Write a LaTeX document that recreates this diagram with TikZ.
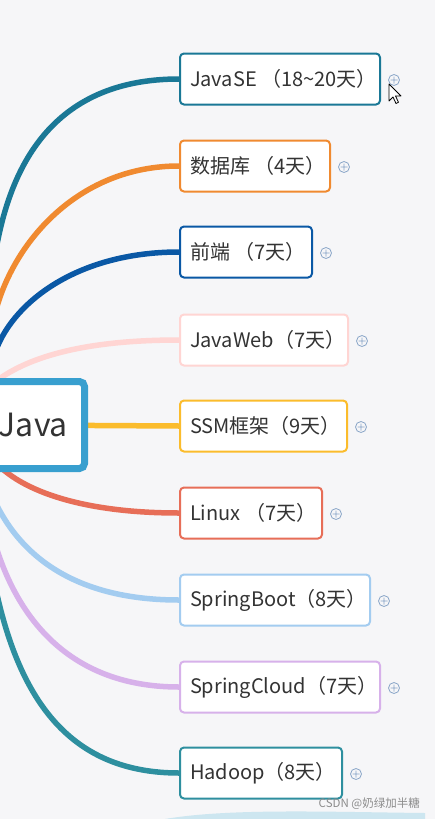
\documentclass[tikz,border=0pt]{standalone}
\usepackage{fontspec}
\setmainfont{Noto Sans CJK SC}
\pgfdeclarelayer{bgfill}
\pgfdeclarelayer{edges}
\pgfsetlayers{bgfill,edges,main}
\definecolor{bgc}{HTML}{F6F6F8}
\definecolor{txt}{HTML}{333333}
\definecolor{cse}{HTML}{1A7896}
\definecolor{cdb}{HTML}{F08A30}
\definecolor{cfe}{HTML}{0A58A5}
\definecolor{cweb}{HTML}{FFD5D3}
\definecolor{cssm}{HTML}{FBBC2C}
\definecolor{clx}{HTML}{E76E58}
\definecolor{cboot}{HTML}{A3CCF0}
\definecolor{ccloud}{HTML}{D7B1EA}
\definecolor{chd}{HTML}{2E8F9F}
\definecolor{croot}{HTML}{389FCF}
\definecolor{cplus}{HTML}{8AA6C8}
\definecolor{cwave}{HTML}{CDE6F0}
\newcommand{\tbox}[2]{\makebox[#1pt][l]{#2}}
\tikzset{
  topic/.style={draw=#1, line width=2pt, rounded corners=4pt, fill=white, anchor=west,
    minimum height=51pt, inner xsep=10pt, inner ysep=0pt, text=txt,
    font=\fontsize{20}{22}\selectfont},
  edge/.style={line width=5.5pt, draw=#1},
  plusic/.pic={\draw[cplus, line width=0.8pt] (0,0) circle (5.5) (-3.5,0) -- (3.5,0) (0,-3.5) -- (0,3.5);}
}
\begin{document}
\begin{tikzpicture}[x=1pt,y=-1pt]
\useasboundingbox (0,0) rectangle (435,819);
\begin{pgfonlayer}{bgfill}
\fill[bgc] (0,0) rectangle (435,819);
\end{pgfonlayer}
% root
\node[draw=croot, line width=7pt, rounded corners=5pt, fill=white, minimum width=144.5pt,
  minimum height=87pt, inner xsep=16.5pt, text width=111.5pt, align=right, text=txt,
  font=\fontsize{32}{34}\selectfont] (root) at (12.25,425) {Java};
% topics
\node[topic=cse] (javase) at (179,79) {\tbox{180}{JavaSE （18\char`~20天）}};
\node[topic=cdb] (db) at (179,166) {\tbox{130}{数据库 （4天）}};
\node[topic=cfe] (fe) at (179,252) {\tbox{112}{前端 （7天）}};
\node[topic=cweb] (web) at (179,340) {\tbox{148}{JavaWeb（7天）}};
\node[topic=cssm] (ssm) at (179,426) {\tbox{147}{SSM框架（9天）}};
\node[topic=clx] (linux) at (179,513) {\tbox{122}{Linux （7天）}};
\node[topic=cboot] (boot) at (179,600) {\tbox{170}{SpringBoot（8天）}};
\node[topic=ccloud] (cloud) at (179,687) {\tbox{180}{SpringCloud（7天）}};
\node[topic=chd] (hd) at (179,773) {\tbox{142}{Hadoop（8天）}};
% exit points of curves
\coordinate (e1) at (-4,250);
\coordinate (e2) at (-4,310);
\coordinate (e3) at (-4,350);
\coordinate (e4) at (-5,382);
\coordinate (e6) at (-10,455);
\coordinate (e7) at (-8,495);
\coordinate (e8) at (-6,540);
\coordinate (e9) at (-4,590);
\begin{pgfonlayer}{edges}
\begin{scope}
\clip (0,0) rectangle (435,819);
\draw[edge=cse] (e1) .. controls (10,170) and (50,79) .. (javase.west);
\draw[edge=cdb] (e2) .. controls (15,240) and (80,166) .. (db.west);
\draw[edge=cfe] (e3) .. controls (15,300) and (80,252) .. (fe.west);
\draw[edge=cweb] (e4) .. controls (30,355) and (90,340) .. (web.west);
\draw[edge=cssm] (root.center) -- (ssm.west);
\draw[edge=clx] (e6) .. controls (10,485) and (70,513) .. (linux.west);
\draw[edge=cboot] (e7) .. controls (20,560) and (80,600) .. (boot.west);
\draw[edge=ccloud] (e8) .. controls (20,630) and (80,687) .. (cloud.west);
\draw[edge=chd] (e9) .. controls (20,700) and (70,773) .. (hd.west);
\end{scope}
\end{pgfonlayer}
% plus icons
\foreach \n in {javase,db,fe,web,ssm,linux,boot,cloud,hd}{
  \pic at ([xshift=13pt,yshift=-1pt]\n.east) {plusic};
}
% cursor
\filldraw[fill=white, draw=black, line width=0.8pt, line join=round] (389,84) -- ++(0,17) -- ++(4,-4) -- ++(3,6.5) -- ++(2.5,-1.2) -- ++(-3,-6.3) -- ++(5.5,0) -- cycle;
% wave and watermark
\fill[cwave] (165,819) .. controls (230,808) and (330,812) .. (425,813) -- (425,819) -- cycle;
\node[anchor=east, inner sep=0pt, text=black!45, font=\fontsize{11.5}{12}\selectfont] (wm) at (420,804) {CSDN @奶绿加半糖};
\end{tikzpicture}
\end{document}
